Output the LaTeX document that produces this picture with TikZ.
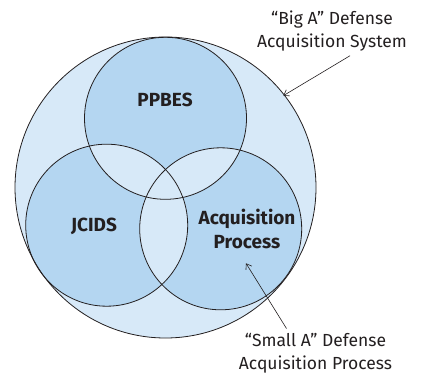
\documentclass[tikz,border=0pt]{standalone}
\usepackage{fontspec}
\setmainfont{Fira Sans}
\usetikzlibrary{arrows.meta}
\definecolor{outerblue}{HTML}{D7E9F8}
\definecolor{innerblue}{HTML}{B4D6F1}
\definecolor{ink}{HTML}{231F20}
\begin{document}
\begin{tikzpicture}[x=1pt,y=-1pt,
  ring/.style={draw=ink, line width=0.8pt},
  setlabel/.style={font=\bfseries\fontsize{19}{24}\selectfont, text=ink, align=center},
  note/.style={font=\fontsize{17.5}{23}\selectfont, text=ink, align=center},
  pointer/.style={draw=ink, line width=0.6pt, -{Straight Barb[length=5pt,width=7pt]}}]
\useasboundingbox (0,0) rectangle (428,377);
% centres of the four circles
\coordinate (cBig) at (165.5,187.5);
\coordinate (cP) at (165.5,118.3);
\coordinate (cJ) at (106.7,225.2);
\coordinate (cA) at (220.7,228.8);
\def\rBig{150.5}
\def\rSet{81}
% the whole defense acquisition system
\fill[outerblue] (cBig) circle[radius=\rBig];
% the three processes
\fill[innerblue] (cP) circle[radius=\rSet] (cJ) circle[radius=\rSet] (cA) circle[radius=\rSet];
% shared regions are shown in the lighter tint
\begin{scope}
  \clip (cP) circle[radius=\rSet];
  \fill[outerblue] (cJ) circle[radius=\rSet] (cA) circle[radius=\rSet];
\end{scope}
\begin{scope}
  \clip (cJ) circle[radius=\rSet];
  \fill[outerblue] (cA) circle[radius=\rSet];
\end{scope}
% outlines
\draw[ring] (cBig) circle[radius=\rBig];
\draw[ring] (cP) circle[radius=\rSet];
\draw[ring] (cJ) circle[radius=\rSet];
\draw[ring] (cA) circle[radius=\rSet];
% set labels
\node[setlabel] (ppbes) at (165,100) {PPBES};
\node[setlabel] (jcids) at (94,226) {JCIDS};
\node[setlabel] (acq) at (247,229) {Acquisition\\Process};
% callouts
\node[note] (bigA) at (332,31) {“Big A” Defense\\Acquisition System};
\node[note] (smallA) at (315.5,353) {“Small A” Defense\\Acquisition Process};
\coordinate (bigHead) at (283.3,95.7);
\coordinate (smallHead) at (246,263.3);
\draw[pointer] ([xshift=18pt,yshift=-1pt]bigA.south) -- (bigHead);
\draw[pointer] ([xshift=-29pt,yshift=1pt]smallA.north) -- (smallHead);
\end{tikzpicture}
\end{document}
